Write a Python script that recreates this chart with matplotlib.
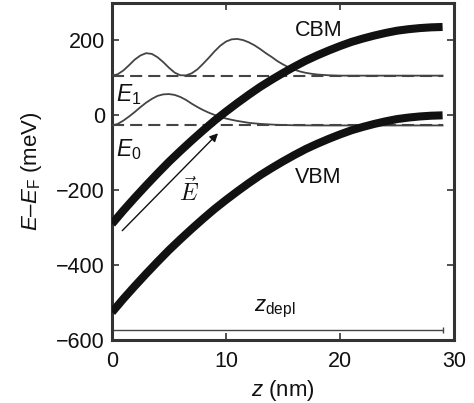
import matplotlib
matplotlib.use("Agg")
import matplotlib.pyplot as plt

plt.rcParams['font.family'] = ['Liberation Sans', 'DejaVu Sans']
plt.rcParams['mathtext.fontset'] = 'custom'
plt.rcParams['mathtext.rm'] = 'Liberation Sans'
plt.rcParams['mathtext.it'] = 'Liberation Sans:italic'
plt.rcParams['mathtext.bf'] = 'Liberation Sans:bold'
plt.rcParams['axes.unicode_minus'] = True

# ---- data ----
z_band = [0, 1, 2, 3, 4, 5, 6, 7, 8, 9, 10, 11, 12, 13, 14, 15, 16, 17, 18, 19,
          20, 21, 22, 23, 24, 25, 26, 27, 28, 29]
vbm = [-526, -490, -456, -423, -391, -360, -331, -303, -276, -250, -226, -203,
       -181, -160, -141, -123, -106, -90, -76, -63, -51, -40, -31, -23, -16,
       -10, -6, -3, -1, 0]
cbm = [-290, -254, -220, -187, -155, -124, -95, -67, -40, -14, 10, 33, 55, 76,
       95, 113, 130, 146, 160, 173, 185, 196, 205, 213, 220, 226, 230, 233,
       235, 236]

E0_level = -27
E1_level = 106

z_wf = [0, 0.5, 1, 1.5, 2, 2.5, 3, 3.5, 4, 4.5, 5, 5.5, 6, 6.5, 7, 7.5, 8, 8.5,
        9, 9.5, 10, 10.5, 11, 11.5, 12, 12.5, 13, 13.5, 14, 14.5, 15, 15.5, 16,
        16.5, 17, 17.5, 18, 18.5, 19, 19.5, 20, 22, 24, 26, 29]
psi1 = [0, 3.7, 13.9, 28, 43, 54, 60, 58, 49, 36, 21, 8, 1, 0.7, 6.4, 17, 32,
        48, 65, 80, 91, 97, 98, 95, 89, 81, 71, 60, 50, 39, 30, 22, 16, 11, 7.5,
        5, 3, 2, 1, 0.5, 0, 0, 0, 0, 0]
psi0 = [0, 4, 13, 24, 36, 49, 61, 71, 79, 83, 83.8, 81.5, 76, 68, 58, 49, 41,
        34, 28, 22.5, 18.5, 15, 12, 9.5, 7, 5.5, 4.2, 3.2, 2.4, 1.7, 1.2, 0.8,
        0.5, 0.3, 0.2, 0.1, 0, 0, 0, 0, 0, 0, 0, 0, 0]

z_depl_start, z_depl_end = 0, 29
z_depl_level = -573

xticks = [0, 10, 20, 30]
yticks = [-600, -400, -200, 0, 200]

# ---- figure ----
fig = plt.figure(figsize=(4.74, 4.03), dpi=100)
ax = fig.add_axes([112 / 474, 1 - 340 / 403, (454 - 112) / 474, (340 - 3) / 403])

gray = '#444444'
# dashed levels
for lev in (E1_level, E0_level):
    ax.plot([z_band[0], z_band[-1]], [lev, lev], color=gray, lw=1.5,
            dashes=(5.8, 2.9), zorder=2)
# wave functions
ax.plot(z_wf, [E1_level + p for p in psi1], color=gray, lw=1.3, zorder=3)
ax.plot(z_wf, [E0_level + p for p in psi0], color=gray, lw=1.3, zorder=3)
# bands
ax.plot(z_band, cbm, color='#111111', lw=5.8, solid_capstyle='butt', zorder=4)
ax.plot(z_band, vbm, color='#111111', lw=5.8, solid_capstyle='butt', zorder=4)

# depletion width bar
ax.errorbar([(z_depl_start + z_depl_end) / 2], [z_depl_level],
            xerr=[[(z_depl_end - z_depl_start) / 2]], color=gray, lw=1.0,
            capsize=2.5, capthick=1.0, fmt='none')
ax.text(14.3, -518, r'$z_\mathrm{depl}$', fontsize=16, ha='center',
        va='center', color='#111111')

# electric field arrow
ax.annotate('', xy=(9.3, -48), xytext=(0.9, -308),
            arrowprops=dict(arrowstyle='-|>', color='#111111', lw=1.0,
                            mutation_scale=12, shrinkA=0, shrinkB=0))
ax.text(6.75, -203, r'$\vec{E}$', fontsize=17, ha='center', va='center',
        math_fontfamily='cm', color='#111111')

ax.text(18.1, 227, 'CBM', fontsize=15.5, ha='center', va='center', color='#111111')
ax.text(18.1, -165, 'VBM', fontsize=15.5, ha='center', va='center', color='#111111')
ax.text(0.35, 37, r'$E_1$', fontsize=16.5, ha='left', va='baseline', color='#111111')
ax.text(0.35, -109, r'$E_0$', fontsize=16.5, ha='left', va='baseline', color='#111111')

ax.set_xlim(0, 30)
ax.set_ylim(-600, 300)
ax.set_xticks(xticks)
ax.set_yticks(yticks)
ax.tick_params(direction='in', length=5, width=1.2, top=True, right=True,
               labelsize=15.5, color='#333333', labelcolor='#111111')
ax.tick_params(axis='x', pad=8)
ax.tick_params(axis='y', pad=5)
for s in ax.spines.values():
    s.set_linewidth(2.2)
    s.set_color('#333333')

ax.set_xlabel(r'$z$ (nm)', fontsize=16, labelpad=4, color='#111111')
ax.set_ylabel(r'$E$–$E_\mathrm{F}$ (meV)', fontsize=16, labelpad=9, color='#111111')

fig.savefig('out.png', dpi=100)
